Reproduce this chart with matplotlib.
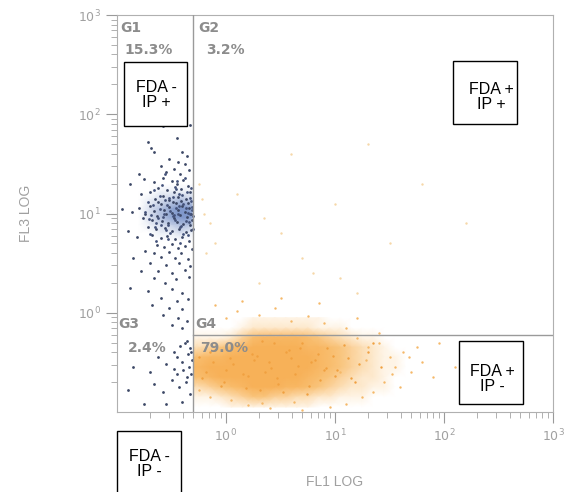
import matplotlib.pyplot as plt
import numpy as np
from matplotlib.colors import LinearSegmentedColormap
from matplotlib.patches import Rectangle

# all positions below are log10 of the channel value
# G1 / G3 events (FDA negative), dark dots
neg_fl1 = [-0.58, -0.47, -0.33, -0.72, -0.69, -0.66, -0.45, -0.40, -0.36, -0.52, -0.44, -0.38, -0.60, -0.48, -0.34,
           -0.80, -0.55, -0.42, -0.88, -0.75, -0.66, -0.58, -0.50, -0.45, -0.39, -0.35, -0.62, -0.54, -0.48, -0.41,
           -0.33, -0.70, -0.78, -0.58, -0.44, -0.37, -0.52, -0.65, -0.95, -0.86, -0.80, -0.74, -0.70, -0.66, -0.63,
           -0.60, -0.57, -0.55, -0.52, -0.50, -0.48, -0.46, -0.44, -0.42, -0.40, -0.38, -0.36, -0.34, -0.32, -0.31,
           -0.68, -0.59, -0.53, -0.45, -0.39, -0.33, -0.76, -0.62, -0.49, -0.41, -0.35, -0.90, -0.72, -0.64, -0.56,
           -0.50, -0.43, -0.37, -0.32, -0.82, -0.68, -0.60, -0.54, -0.47, -0.40, -0.34, -0.63, -0.57, -0.50, -0.44,
           -0.38, -0.31, -0.74, -0.66, -0.52, -0.41, -0.85, -0.60, -0.47, -0.35, -0.70, -0.55, -0.43, -0.33, -0.78,
           -0.62, -0.50, -0.38, -0.66, -0.46, -0.34, -0.56, -0.88, -0.72, -0.50, -0.40, -0.60, -0.45, -0.35, -0.68,
           -0.52, -0.40, -0.58, -0.44, -0.36, -0.50, -0.40,
           -0.85, -0.70, -0.62, -0.55, -0.48, -0.45, -0.42, -0.40, -0.38, -0.37, -0.35, -0.34, -0.33, -0.32, -0.31,
           -0.36, -0.39, -0.43, -0.50, -0.58, -0.66, -0.90, -0.75, -0.55, -0.40, -0.33, -0.45, -0.48, -0.36, -0.32]
neg_fl3 = [1.88, 1.90, 1.89, 1.72, 1.66, 1.62, 1.76, 1.62, 1.58, 1.55, 1.52, 1.50, 1.48, 1.45, 1.44,
           1.40, 1.42, 1.40, 1.30, 1.35, 1.32, 1.36, 1.33, 1.30, 1.34, 1.28, 1.26, 1.24, 1.22, 1.25,
           1.22, 1.22, 1.20, 1.18, 1.17, 1.15, 1.14, 1.15, 1.05, 1.02, 1.06, 1.00, 1.08, 1.03, 0.97,
           1.10, 1.04, 0.99, 1.07, 1.01, 0.95, 1.11, 1.04, 0.98, 1.08, 1.02, 0.96, 1.06, 1.00, 0.93,
           0.93, 0.92, 0.90, 0.91, 0.89, 0.88, 0.95, 1.12, 1.12, 1.13, 1.11, 0.82, 0.86, 0.84, 0.85,
           0.82, 0.84, 0.81, 0.83, 0.76, 0.78, 0.75, 0.77, 0.74, 0.76, 0.72, 0.68, 0.66, 0.69, 0.65,
           0.67, 0.64, 0.62, 0.60, 0.61, 0.60, 0.55, 0.56, 0.55, 0.54, 0.50, 0.48, 0.50, 0.47, 0.42,
           0.42, 0.40, 0.43, 0.35, 0.34, 0.36, 0.30, 0.25, 0.22, 0.24, 0.20, 0.15, 0.12, 0.14, 0.08,
           0.05, 0.04, -0.02, -0.05, -0.08, -0.12, -0.15,
           -0.55, -0.60, -0.45, -0.52, -0.40, -0.62, -0.33, -0.50, -0.30, -0.70, -0.42, -0.55, -0.36, -0.62, -0.48,
           -0.28, -0.58, -0.75, -0.68, -0.80, -0.72, -0.78, -0.92, -0.92, -0.90, -0.82, -0.45, -0.57, -0.65, -0.40]

# extra events in the packed G1 core
core_pts_fl1 = [-0.74, -0.71, -0.67, -0.64, -0.61, -0.58, -0.56, -0.53, -0.51, -0.49, -0.47, -0.46, -0.43, -0.41,
                -0.39, -0.37, -0.35, -0.33, -0.31, -0.30,
                -0.72, -0.69, -0.65, -0.61, -0.57, -0.54, -0.51, -0.47, -0.44, -0.42, -0.40, -0.37, -0.34, -0.32,
                -0.30,
                -0.70, -0.66, -0.62, -0.59, -0.55, -0.52, -0.49, -0.46, -0.43, -0.39, -0.36, -0.33, -0.31,
                -0.64, -0.60, -0.56, -0.53, -0.48, -0.45, -0.42, -0.38, -0.35, -0.32]
core_pts_fl3 = [1.02, 0.94, 1.09, 0.90, 1.05, 0.96, 1.14, 0.88, 1.03, 1.17, 0.93, 1.06, 1.20, 0.87,
                1.10, 0.92, 1.01, 1.16, 1.04, 0.97,
                1.12, 0.98, 0.86, 1.18, 1.00, 1.09, 0.80, 1.27, 0.99, 0.86, 1.19, 1.06, 0.91, 1.13,
                0.84,
                0.79, 1.24, 0.95, 1.29, 0.83, 1.16, 0.97, 1.25, 1.08, 0.79, 1.22, 0.99, 1.07,
                0.72, 0.88, 1.40, 0.74, 0.98, 1.33, 0.70, 1.36, 0.78, 1.26]

# blue core density of G1 (relative)
core_fl1 = [-0.80, -0.70, -0.60, -0.50, -0.42, -0.35, -0.31]
core_fl3 = [1.30, 1.22, 1.14, 1.05, 0.96, 0.88, 0.80, 0.72]
core_dens = [[0, 0, 0, 0, 0, 0, 0],
             [0, 0, 1, 1, 1, 1, 1],
             [0, 1, 2, 3, 4, 3, 3],
             [0, 2, 4, 6, 7, 7, 6],
             [0, 2, 4, 6, 7, 7, 6],
             [0, 1, 2, 3, 4, 4, 3],
             [0, 0, 1, 1, 2, 1, 1],
             [0, 0, 0, 0, 0, 0, 0]]

# G4 cloud density (FDA positive, IP negative)
cloud_fl1 = [-0.29, -0.25, -0.15, -0.05, 0.05, 0.15, 0.25, 0.35, 0.45, 0.55, 0.65, 0.75, 0.85, 0.95,
             1.05, 1.15, 1.25, 1.35, 1.45, 1.55, 1.65, 1.75, 1.85]
cloud_fl3 = [-0.05, -0.15, -0.25, -0.35, -0.45, -0.55, -0.65, -0.75, -0.85, -0.95]
cloud_dens = [[0, 0, 0, 0, 0, 0, 1, 1, 1, 1, 1, 1, 1, 0, 0, 0, 0, 0, 0, 0, 0, 0, 0],
              [0, 0, 0, 0, 0, 1, 2, 2, 2, 2, 2, 2, 1, 1, 1, 0, 0, 0, 0, 0, 0, 0, 0],
              [1, 1, 1, 1, 2, 4, 6, 7, 7, 7, 7, 6, 5, 4, 3, 2, 1, 1, 0, 0, 0, 0, 0],
              [3, 3, 4, 5, 6, 7, 8, 8, 8, 8, 8, 7, 7, 6, 5, 4, 3, 2, 1, 0, 0, 0, 0],
              [6, 6, 7, 7, 8, 8, 8, 8, 8, 8, 8, 8, 7, 6, 5, 4, 3, 2, 1, 1, 0, 0, 0],
              [7, 7, 8, 8, 8, 8, 8, 8, 8, 8, 8, 8, 7, 6, 5, 4, 3, 2, 1, 1, 0, 0, 0],
              [6, 6, 7, 8, 8, 8, 8, 8, 8, 8, 8, 7, 6, 5, 4, 3, 2, 2, 1, 0, 0, 0, 0],
              [3, 3, 4, 5, 6, 7, 8, 8, 8, 7, 7, 6, 5, 4, 3, 2, 2, 1, 1, 0, 0, 0, 0],
              [1, 1, 1, 2, 3, 4, 5, 5, 4, 4, 3, 3, 2, 2, 1, 1, 1, 0, 0, 0, 0, 0, 0],
              [0, 0, 0, 0, 1, 1, 1, 1, 1, 1, 1, 1, 0, 0, 0, 0, 0, 0, 0, 0, 0, 0, 0]]

# darker grains inside the cloud
grain_fl1 = [-0.25, -0.18, -0.10, -0.02, 0.06, 0.12, 0.20, 0.28, 0.33, 0.41, 0.48, 0.55, 0.63, 0.70, 0.78, 0.86,
             0.93, 1.02, 1.12, 1.22,
             -0.22, -0.12, 0.00, 0.10, 0.18, 0.26, 0.36, 0.44, 0.52, 0.60, 0.68, 0.76, 0.84, 0.92, 1.00, 1.08,
             1.18, 1.30, 1.42,
             -0.15, -0.05, 0.04, 0.16, 0.24, 0.31, 0.39, 0.47, 0.58, 0.66, 0.74, 0.82, 0.90, 0.98, 1.15, 1.35]
grain_fl3 = [-0.45, -0.60, -0.38, -0.70, -0.52, -0.32, -0.64, -0.44, -0.28, -0.56, -0.72, -0.40, -0.62, -0.30, -0.50,
             -0.68, -0.36, -0.58, -0.46, -0.52,
             -0.66, -0.50, -0.58, -0.34, -0.76, -0.48, -0.60, -0.30, -0.80, -0.46, -0.36, -0.74, -0.42, -0.56,
             -0.64, -0.32, -0.70, -0.40, -0.55,
             -0.40, -0.74, -0.46, -0.62, -0.42, -0.78, -0.50, -0.66, -0.38, -0.54, -0.82, -0.48, -0.58, -0.44,
             -0.66, -0.30]

# loose orange events around the cloud
pos_fl1 = [-0.20, 0.00, 0.10, 0.30, 0.45, 0.60, 0.75, 0.90, 1.10, 1.20, 1.30, 1.40, 1.50, 1.55, 1.62, 1.70,
           1.45, 1.35, 1.25, 1.10, 0.95, 0.70, 0.40, 0.20, 0.05, -0.15, -0.25, 1.80, 1.90, 1.75, 1.60, 1.40,
           1.20, 0.85, 0.50, 0.15, -0.10, 2.10, 2.30, 1.95, 1.05, 1.28, 1.52, 1.68, 0.62, 0.33]
pos_fl3 = [-0.10, -0.05, 0.02, -0.02, 0.05, -0.08, -0.03, -0.10, -0.15, -0.25, -0.35, -0.30, -0.45, -0.55, -0.40, -0.60,
           -0.70, -0.80, -0.85, -0.92, -0.95, -0.98, -0.96, -0.93, -0.88, -0.85, -0.78, -0.50, -0.65, -0.35, -0.75, -0.20,
           -0.05, 0.10, 0.15, 0.12, 0.08, -0.55, -0.70, -0.30, -0.60, -0.48, -0.62, -0.45, -0.90, -0.91]

# very faint events in G2
g2_fl1 = [0.10, 0.50, 1.00, 0.80, 1.50, 1.80, 0.30, 1.20, 2.20, 0.60, 1.30, -0.20, -0.15, -0.22, -0.10,
          -0.25, -0.18, 0.35, 0.70, 1.05]
g2_fl3 = [1.20, 0.80, 1.10, 0.40, 0.70, 1.30, 0.30, 0.20, 0.90, 1.60, 1.70, 1.00, 0.90, 1.15, 0.70,
          1.30, 0.60, 0.95, 0.55, 0.35]

gate_fl1 = -0.30
gate_fl3 = -0.22

gate_names = ['G1', 'G2', 'G3', 'G4']
gate_pct = ['15.3%', '3.2%', '2.4%', '79.0%']

W, H = 566, 492


def fx(px):
    return px / W


def fy(py):
    return 1 - py / H


fig = plt.figure(figsize=(W / 100, H / 100), dpi=100)
ax = fig.add_axes([fx(117), fy(412), (553 - 117) / W, (412 - 15) / H])
ax.set_xscale('log')
ax.set_yscale('log')

orange = LinearSegmentedColormap.from_list('orange', ['#ffffff', '#fde2bd', '#f9c175', '#f7b158'])
blue = LinearSegmentedColormap.from_list('blue', ['#ffffff', '#b4c2e0', '#6f8bc4'])

cx, cy = np.meshgrid(10.0 ** np.array(cloud_fl1), 10.0 ** np.array(cloud_fl3))
ax.pcolormesh(cx, cy, np.array(cloud_dens), shading='gouraud', cmap=orange, vmin=0, vmax=8, zorder=1)

bx, by = np.meshgrid(10.0 ** np.array(core_fl1), 10.0 ** np.array(core_fl3))
ax.pcolormesh(bx, by, np.array(core_dens), shading='gouraud', cmap=blue, vmin=0, vmax=8, zorder=1)

ax.scatter(10.0 ** np.array(g2_fl1), 10.0 ** np.array(g2_fl3), s=3, color='#f6d7a8', lw=0, zorder=2)
ax.scatter(10.0 ** np.array(pos_fl1), 10.0 ** np.array(pos_fl3), s=3, color='#f5b868', lw=0, zorder=2)
ax.scatter(10.0 ** np.array(grain_fl1), 10.0 ** np.array(grain_fl3), s=3, color='#f0a040', lw=0, zorder=2)
ax.scatter(10.0 ** np.array(neg_fl1), 10.0 ** np.array(neg_fl3), s=4, color='#3d4866', lw=0, zorder=3)
ax.scatter(10.0 ** np.array(core_pts_fl1), 10.0 ** np.array(core_pts_fl3), s=4, color='#44527a', lw=0, zorder=3)

ax.axvline(10 ** gate_fl1, color='#9a9a9a', lw=1, zorder=4)
ax.axhline(10 ** gate_fl3, xmin=(gate_fl1 + 1) / 4, color='#9a9a9a', lw=1, zorder=4)

ax.set_xlim(0.1, 1000)
ax.set_ylim(0.1, 1000)
ax.set_xticks([1, 10, 100, 1000])
ax.set_yticks([1, 10, 100, 1000])
ax.tick_params(which='major', length=8, width=0.8, color='#9a9a9a', labelcolor='#a0a0a0', labelsize=9)
ax.tick_params(which='minor', length=4, width=0.7, color='#b0b0b0')
for s in ax.spines.values():
    s.set_color('#b0b0b0')
    s.set_linewidth(0.8)

# gate labels
lab_pos = [(120, 28, 124, 50), (198, 28, 206, 50), (118, 324, 128, 348), (195, 324, 200, 348)]
for name, pct, (x1, y1, x2, y2) in zip(gate_names, gate_pct, lab_pos):
    fig.text(fx(x1), fy(y1), name, color='#8c8c8c', fontsize=10, fontweight='bold', va='center', ha='left')
    fig.text(fx(x2), fy(y2), pct, color='#8c8c8c', fontsize=10, fontweight='bold', va='center', ha='left')

fig.text(fx(26), fy(213), 'FL3 LOG', rotation=90, color='#a0a0a0', fontsize=10,
         family='Liberation Sans', ha='center', va='center')
fig.text(fx(335), fy(482), 'FL1 LOG', color='#a0a0a0', fontsize=10,
         family='Liberation Sans', ha='center', va='center')

# annotation boxes (x0, y0, x1, y1 in pixels, text centre)
boxes = [('FDA -\nIP +', (124, 62, 187, 126), (156, 95)),
         ('FDA +\nIP +', (453, 61, 517, 124), (491, 97)),
         ('FDA +\nIP -', (459, 341, 523, 404), (492, 379)),
         ('FDA -\nIP -', (117, 431, 181, 496), (149, 464))]
for txt, (x0, y0, x1, y1), (tx, ty) in boxes:
    fig.add_artist(Rectangle((fx(x0), fy(y1)), (x1 - x0) / W, (y1 - y0) / H, transform=fig.transFigure,
                             facecolor='white', edgecolor='black', lw=1, zorder=10))
    fig.text(fx(tx), fy(ty), txt, family='Liberation Sans', fontsize=11.5, ha='center', va='center',
             linespacing=1.05, zorder=11)

plt.savefig('out.png', dpi=100)
